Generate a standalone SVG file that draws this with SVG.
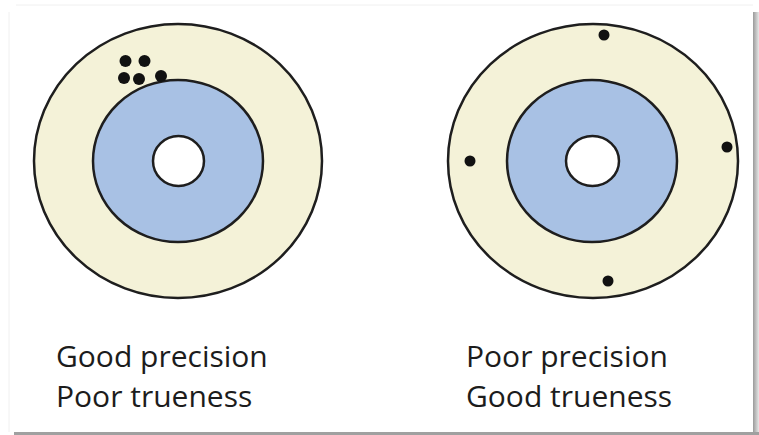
<svg xmlns="http://www.w3.org/2000/svg" width="759" height="435" viewBox="0 0 759 435">
<style>
.outer{fill:#f4f2d8;stroke:#1e1e1e;stroke-width:2.5}
.mid{fill:#a8c1e4;stroke:#1e1e1e;stroke-width:2.5}
.inner{fill:#ffffff;stroke:#1e1e1e;stroke-width:2.5}
.dot{fill:#111}
.lbl{font-family:"Open Sans","Noto Sans",sans-serif;font-size:30px;fill:#1c1c1c}
</style>
<defs>
<linearGradient id="shR" x1="0" y1="0" x2="1" y2="0">
<stop offset="0" stop-color="#9a9a9a"/><stop offset="1" stop-color="#e8e8e8"/>
</linearGradient>
</defs>
<rect x="0" y="0" width="759" height="435" fill="#ffffff"/>
<rect x="753" y="12" width="6" height="423" fill="url(#shR)"/>
<rect x="14" y="432" width="745" height="3" fill="#a0a0a0"/>
<line x1="16" y1="5" x2="753" y2="5" stroke="#f0f0f0" stroke-width="1"/>
<line x1="9" y1="12" x2="9" y2="432" stroke="#f0f0f0" stroke-width="1"/>
<g id="target-left">
<ellipse class="outer" cx="178" cy="161" rx="144" ry="137"/>
<ellipse class="mid" cx="178" cy="161" rx="85" ry="81"/>
<ellipse class="inner" cx="178.5" cy="161" rx="25.5" ry="25"/>
<circle class="dot" cx="125.5" cy="61" r="6"/>
<circle class="dot" cx="144.5" cy="61" r="6"/>
<circle class="dot" cx="124" cy="78" r="6"/>
<circle class="dot" cx="139" cy="79" r="6"/>
<circle class="dot" cx="161" cy="76" r="6"/>
</g>
<g id="target-right">
<ellipse class="outer" cx="593" cy="161" rx="145" ry="137"/>
<ellipse class="mid" cx="592" cy="161" rx="85" ry="81"/>
<ellipse class="inner" cx="592.5" cy="161" rx="26.5" ry="25"/>
<circle class="dot" cx="604" cy="35" r="5.5"/>
<circle class="dot" cx="470" cy="161" r="5.5"/>
<circle class="dot" cx="727" cy="147" r="5.5"/>
<circle class="dot" cx="608" cy="281" r="5.5"/>
</g>
<g id="label-left">
<text class="lbl" x="56" y="367">Good precision</text>
<text class="lbl" x="56" y="407">Poor trueness</text>
</g>
<g id="label-right">
<text class="lbl" x="466" y="367">Poor precision</text>
<text class="lbl" x="466" y="407">Good trueness</text>
</g>
</svg>
